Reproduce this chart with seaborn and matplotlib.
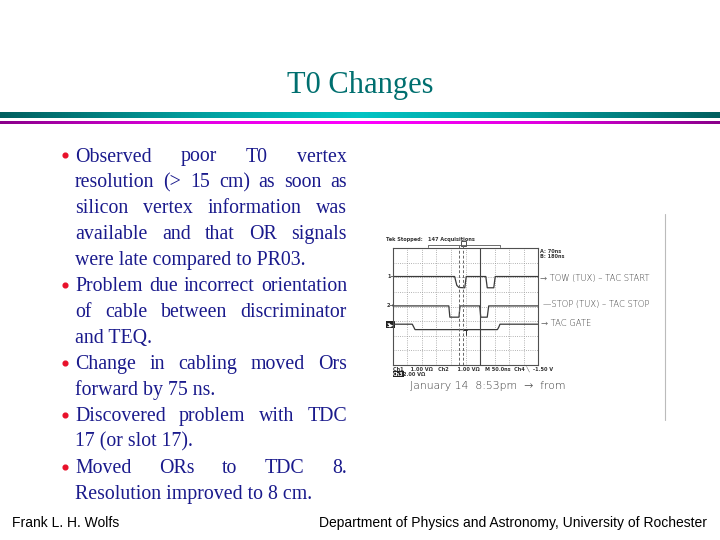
import numpy as np
import pandas as pd
import matplotlib
matplotlib.use("Agg")
import matplotlib.pyplot as plt
from matplotlib.colors import LinearSegmentedColormap
import seaborn as sns

# ---- slide text ----
title = "T0 Changes"
bullets = [
    ["Observed poor T0 vertex", "resolution (> 15 cm) as soon as",
     "silicon vertex information was", "available and that OR signals",
     "were late compared to PR03."],
    ["Problem due incorrect orientation", "of cable between discriminator",
     "and TEQ."],
    ["Change in cabling moved Ors", "forward by 75 ns."],
    ["Discovered problem with TDC", "17 (or slot 17)."],
    ["Moved ORs to TDC 8.", "Resolution improved to 8 cm."],
]
footer_left = "Frank L. H. Wolfs"
footer_right = "Department of Physics and Astronomy, University of Rochester"

# ---- scope traces (time, level in screen divisions, 10 x 8 grid) ----
ch1_t = [0, 4.25, 4.4, 4.55, 4.95, 5.05, 6.4, 6.5, 6.95, 7.05, 10]
ch1_v = [6.05, 6.05, 5.45, 5.3, 5.28, 6.05, 6.05, 5.28, 5.28, 6.05, 6.05]
ch2_t = [0, 3.85, 3.92, 4.55, 4.62, 5.98, 6.05, 6.5, 6.6, 10]
ch2_v = [4.04, 4.04, 3.27, 3.27, 4.04, 4.04, 3.27, 3.27, 4.04, 4.04]
ch3_t = [0, 1.33, 1.52, 7.2, 7.3, 7.38, 10]
ch3_v = [2.79, 2.79, 2.42, 2.42, 2.6, 2.79, 2.79]
cursor_t = [4.55, 4.85]
marker_t = 6.0

scope_labels = {"ch1": "1", "ch2": "2", "ch3": "3"}
notes = ["→ TOW (TUX) – TAC START", "—STOP (TUX) – TAC STOP", "→ TAC GATE"]
note_date = "January 14  8:53pm  →  from"

teal = "#006f6f"
ink = "#1a1a8c"
bullet_red = "#e8102a"

sns.set_theme(style="white")
plt.rcParams["font.family"] = ["Liberation Serif", "DejaVu Serif"]

fig = plt.figure(figsize=(7.2, 5.4), dpi=100)
slide = fig.add_axes([0, 0, 1, 1])
slide.set_xlim(0, 720)
slide.set_ylim(540, 0)
slide.axis("off")

# title and header rules
slide.text(360, 93.5, title, fontsize=22, color=teal, ha="center",
           va="baseline")
bar_cmap = LinearSegmentedColormap.from_list(
    "bar", ["#005f5f", "#009a9a", "#00c4c4", "#009a9a", "#005f5f"])
mag_cmap = LinearSegmentedColormap.from_list(
    "mag", ["#8a008a", "#e000e0", "#ff00ff", "#e000e0", "#8a008a"])
ramp = np.linspace(0, 1, 256)[None, :]
slide.imshow(ramp, cmap=bar_cmap, aspect="auto", extent=[0, 720, 118.5, 113])
slide.imshow(ramp, cmap=mag_cmap, aspect="auto", extent=[0, 720, 124, 121.5])
slide.set_xlim(0, 720)
slide.set_ylim(540, 0)

# justified bullet text
renderer = fig.canvas.get_renderer()
fs = 14.3
x_left, x_right = 75, 347
y0, dy = 161.5, 25.95


def text_width(s):
    t = slide.text(0, 0, s, fontsize=fs)
    w = t.get_window_extent(renderer).width
    t.remove()
    return w


row = 0
for para in bullets:
    slide.plot([64.5], [y0 + row * dy - 6.3], marker="o", markersize=3.4,
               color=bullet_red, linestyle="none")
    for i, line in enumerate(para):
        y = y0 + row * dy
        words = line.split(" ")
        last = i == len(para) - 1
        if last or len(words) == 1:
            slide.text(x_left, y, line, fontsize=fs, color=ink, va="baseline")
        else:
            widths = [text_width(w) for w in words]
            gap = (x_right - x_left - sum(widths)) / (len(words) - 1)
            x = x_left
            for w, wd in zip(words, widths):
                slide.text(x, y, w, fontsize=fs, color=ink, va="baseline")
                x += wd + gap
        row += 1

# footer
slide.text(12, 527, footer_left, fontsize=10, family="Liberation Sans",
           color="black", va="baseline")
slide.text(707, 527, footer_right, fontsize=10, family="Liberation Sans",
           color="black", va="baseline", ha="right")

# ---- scope picture ----
slide.plot([665, 665], [214, 420], color="#bbbbbb", lw=0.8)
scope = fig.add_axes([393 / 720, (540 - 365) / 540, 145 / 720, 117 / 540])
scope.set_facecolor("none")
traces = pd.concat([
    pd.DataFrame({"ch": "ch1", "t": ch1_t, "v": ch1_v}),
    pd.DataFrame({"ch": "ch2", "t": ch2_t, "v": ch2_v}),
    pd.DataFrame({"ch": "ch3", "t": ch3_t, "v": ch3_v}),
])
sns.lineplot(data=traces, x="t", y="v", hue="ch", units="ch",
             estimator=None, sort=False, ax=scope, legend=False,
             palette=["#3a3a3a"] * 3, linewidth=0.9)
scope.set_xlim(0, 10)
scope.set_ylim(0, 8)
scope.set_xticks(np.arange(0, 11))
scope.set_yticks(np.arange(0, 9))
scope.grid(True, linestyle=":", color="#9a9a9a", linewidth=0.6)
scope.tick_params(length=0, labelbottom=False, labelleft=False)
scope.set_xlabel("")
scope.set_ylabel("")
for sp in scope.spines.values():
    sp.set_color("#505050")
    sp.set_linewidth(0.8)
for ct in cursor_t:
    scope.plot([ct, ct], [0, 8.2], color="#666666", lw=0.7,
               linestyle=(0, (3, 2)), clip_on=False)
scope.plot([marker_t, marker_t], [0, 8], color="#444444", lw=0.8)
scope.plot([5.03, 5.03, 4.93, 5.13], [2.05, 2.4, 2.4, 2.4], color="#333333",
           lw=0.7)
scope.plot([2.41, 2.41, 7.38, 7.38], [8.05, 8.2, 8.2, 8.05], color="#555555",
           lw=0.6, clip_on=False)
scope.add_patch(plt.Rectangle((4.72, 8.15), 0.31, 0.3, fill=False,
                              edgecolor="#333333", lw=0.6, clip_on=False))

tiny = dict(family="DejaVu Sans", fontsize=3.6, color="#333333",
            fontweight="bold")
slide.text(386, 241, "Tek Stopped:", **tiny)
slide.text(428, 241, "147 Acquisitions", **tiny)
slide.text(540, 253, "A: 70ns", **tiny)
slide.text(540, 257.5, "B: 180ns", **tiny)
slide.text(387, 278, scope_labels["ch1"] + "→", **tiny)
slide.text(387, 307, scope_labels["ch2"] + "→", **tiny)
slide.text(386.5, 326, scope_labels["ch3"] + "▶", family="DejaVu Sans",
           fontsize=3.6, color="white", fontweight="bold",
           bbox=dict(boxstyle="square,pad=0.15", fc="#222222", ec="none"))
slide.text(393, 370.5, "Ch1    1.00 VΩ   Ch2     1.00 VΩ   M 50.0ns  Ch4 ╲  -1.50 V",
           **tiny)
slide.text(403, 375.5, "2.00 VΩ", **tiny)
slide.text(393, 375.5, "Ch3", family="DejaVu Sans", fontsize=3.6,
           color="white", fontweight="bold",
           bbox=dict(boxstyle="square,pad=0.1", fc="#222222", ec="none"))

hand = dict(family="DejaVu Sans", fontsize=6, color="#3a3a3a",
            fontweight="light", va="center")
slide.text(540, 278, notes[0], **hand)
slide.text(543, 305, notes[1], **hand)
slide.text(541, 324, notes[2], **hand)
slide.text(410, 386, note_date, family="DejaVu Sans", fontsize=7.8,
           color="#3a3a3a", fontweight="light", va="center")

fig.savefig("out.png", dpi=100)
